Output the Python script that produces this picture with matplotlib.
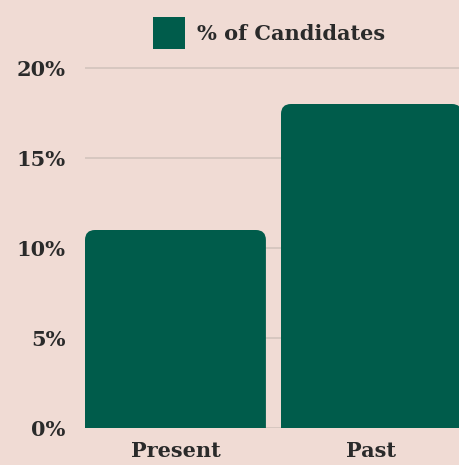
import matplotlib
matplotlib.use("Agg")
import matplotlib.pyplot as plt
from matplotlib.path import Path
from matplotlib.patches import PathPatch, Patch

categories = ["Present", "Past"]
values = [11, 18]
yticks = [0, 5, 10, 15, 20]
ytick_labels = ["0%", "5%", "10%", "15%", "20%"]
series_name = "% of Candidates"

BG = "#f0dbd4"
BAR = "#005c4b"
GRID = "#d3c3bc"
TEXT = "#2a2a2a"
FONT = "DejaVu Serif"

W, H = 460, 465
fig = plt.figure(figsize=(W / 100, H / 100), dpi=100, facecolor=BG)
ax = fig.add_axes([85 / W, 37 / H, (W - 85) / W, 428 / H])
ax.set_facecolor(BG)

bar_w = 0.923
ax.set_xlim(-bar_w / 2, -bar_w / 2 + (W - 85) / 196)
ax.set_ylim(0, 428 / 18)

# radius in pixels -> data units
r_px = 10
rx = r_px / 196
ry = r_px / 18

for i, v in enumerate(values):
    x0, x1 = i - bar_w / 2, i + bar_w / 2
    verts = [(x0, 0), (x0, v - ry), (x0, v), (x0 + rx, v), (x1 - rx, v),
             (x1, v), (x1, v - ry), (x1, 0), (x0, 0)]
    codes = [Path.MOVETO, Path.LINETO, Path.CURVE3, Path.CURVE3, Path.LINETO,
             Path.CURVE3, Path.CURVE3, Path.LINETO, Path.CLOSEPOLY]
    ax.add_patch(PathPatch(Path(verts, codes), facecolor=BAR, edgecolor="none", zorder=3))

ax.set_xticks(range(len(categories)))
ax.set_xticklabels(categories)
ax.set_yticks(yticks)
ax.set_yticklabels(ytick_labels)
ax.tick_params(length=0, labelsize=15, colors=TEXT)
ax.tick_params(axis="y", pad=14)
ax.tick_params(axis="x", pad=9)
for lab in ax.get_xticklabels() + ax.get_yticklabels():
    lab.set_fontfamily(FONT)
    lab.set_fontweight("bold")
ax.grid(axis="y", color=GRID, linewidth=1.2, zorder=0)
ax.grid(axis="x", visible=False)
for s in ax.spines.values():
    s.set_visible(False)

leg = fig.legend(handles=[Patch(facecolor=BAR, edgecolor="none", label=series_name)],
                 loc="center", bbox_to_anchor=(269 / W, 1 - 33 / H), frameon=False,
                 prop={"family": FONT, "weight": "bold", "size": 15},
                 handlelength=1.53, handleheight=1.98, handletextpad=0.55)
for t in leg.get_texts():
    t.set_color(TEXT)

fig.savefig("out.png", dpi=100, facecolor=BG)
